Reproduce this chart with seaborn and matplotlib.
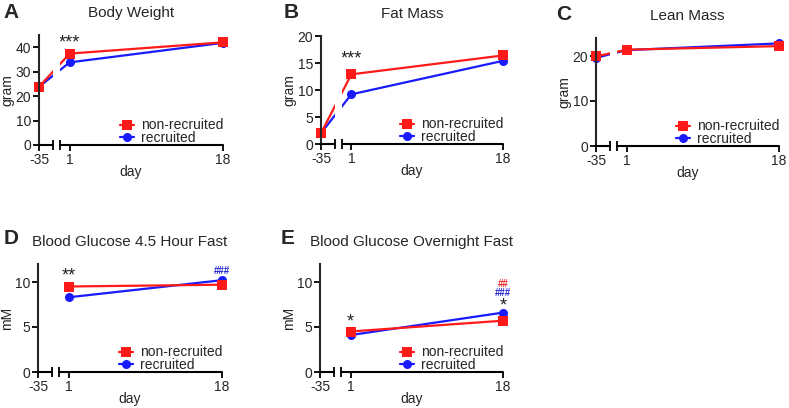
import matplotlib
matplotlib.use("Agg")
import matplotlib.pyplot as plt
import seaborn as sns
import pandas as pd

sns.set_theme(style="ticks")
plt.rcParams["font.family"] = ["Liberation Sans", "DejaVu Sans"]

# ---------- data ----------
groups = ["non-recruited", "recruited"]
days_body = [-35, 1, 18]
days_gluc = [1, 18]

body_nonrec = [23.8, 37.4, 42.0]
body_rec = [23.8, 33.8, 41.8]
fat_nonrec = [2.0, 12.9, 16.4]
fat_rec = [2.0, 9.2, 15.4]
lean_nonrec = [19.9, 21.4, 22.2]
lean_rec = [19.6, 21.3, 22.8]
gluc45_nonrec = [9.5, 9.7]
gluc45_rec = [8.3, 10.2]
glucon_nonrec = [4.5, 5.7]
glucon_rec = [4.1, 6.6]

panels = [
    ("A", "Body Weight", "gram", days_body, body_nonrec, body_rec, 45, [0, 10, 20, 30, 40]),
    ("B", "Fat Mass", "gram", days_body, fat_nonrec, fat_rec, 20, [0, 5, 10, 15, 20]),
    ("C", "Lean Mass", "gram", days_body, lean_nonrec, lean_rec, 24, [0, 10, 20]),
    ("D", "Blood Glucose 4.5 Hour Fast", "mM", days_gluc, gluc45_nonrec, gluc45_rec, 12, [0, 5, 10]),
    ("E", "Blood Glucose Overnight Fast", "mM", days_gluc, glucon_nonrec, glucon_rec, 12, [0, 5, 10]),
]

# significance marks: (day, y, text, colour, size)
marks = {
    "A": [(1, 38.3, "***", "#222222", 13)],
    "B": [(1, 14.2, "***", "#222222", 13)],
    "C": [],
    "D": [(1, 9.7, "**", "#222222", 13), (18, 10.7, "###", "#2222cc", 7)],
    "E": [(1, 4.6, "*", "#222222", 13), (18, 6.4, "*", "#222222", 13),
          (18, 8.2, "###", "#2222cc", 7), (18, 9.2, "##", "#ee2222", 7)],
}

colors = {"non-recruited": "#ff1a1a", "recruited": "#1a1aff"}
markers = {"non-recruited": "s", "recruited": "o"}

# day -> x position on the broken axis
POS35 = -2.4
BRK_L, BRK_R = -0.85, -0.05
def xpos(d):
    return POS35 if d == -35 else d

W, H = 789, 408
fig = plt.figure(figsize=(W / 100, H / 100), dpi=100)

# axes boxes in pixels: left, right, top, bottom
boxes = {
    "A": (39, 223, 35, 145),
    "B": (321, 503, 36, 144),
    "C": (596, 779, 38, 146),
    "D": (38, 222, 264, 372),
    "E": (320, 503, 264, 372),
}
letters = {"A": (11, 12), "B": (291, 13), "C": (564, 14), "D": (11, 239), "E": (288, 239)}

for letter, title, ylab, days, nonrec, rec, ytop, yticks in panels:
    l, r, t, b = boxes[letter]
    ax = fig.add_axes([l / W, 1 - b / H, (r - l) / W, (b - t) / H])

    df = pd.DataFrame({
        "x": [xpos(d) for d in days] * 2,
        "value": list(rec) + list(nonrec),
        "group": ["recruited"] * len(days) + ["non-recruited"] * len(days),
    })
    sns.lineplot(data=df, x="x", y="value", hue="group", style="group",
                 hue_order=["recruited", "non-recruited"],
                 palette=colors, markers=markers, dashes=False,
                 linewidth=1.6, markersize=6.5, markeredgewidth=0,
                 ax=ax, clip_on=False)

    # white gap in lines at the axis break
    ax.axvspan(BRK_L, BRK_R, color="white", zorder=5, lw=0)

    ax.set_xlim(POS35, 18)
    ax.set_ylim(0, ytop)
    ax.set_yticks(yticks)
    ax.set_xticks([POS35, 1, 18])
    ax.set_xticklabels(["-35", "1", "18"])
    ax.tick_params(axis="both", labelsize=10, length=4, width=1.3, color="black", pad=1.5)

    # broken x-axis drawn by hand
    for s in ["top", "right", "bottom"]:
        ax.spines[s].set_visible(False)
    ax.spines["left"].set_linewidth(1.5)
    tr = ax.get_xaxis_transform()
    ax.plot([POS35, BRK_L], [0, 0], color="black", lw=1.5, transform=tr, clip_on=False, zorder=6)
    ax.plot([BRK_R, 18], [0, 0], color="black", lw=1.5, transform=tr, clip_on=False, zorder=6)
    ax.plot([BRK_L, BRK_R], [0, 0], ls="none", marker="|", ms=7, mew=1.3,
            color="black", transform=tr, clip_on=False, zorder=6)

    ax.set_xlabel("day", fontsize=10, labelpad=-1)
    ax.set_ylabel(ylab, fontsize=10, labelpad=1)
    ax.set_title(title, fontsize=11, pad=13)

    for d, y, txt, c, fs in marks[letter]:
        ax.text(xpos(d), y, txt, ha="center", va="bottom", fontsize=fs, color=c,
                fontweight="bold" if fs < 8 else "normal")

    h, lab = ax.get_legend_handles_labels()
    ax.legend(h[::-1], lab[::-1], loc="lower right", bbox_to_anchor=(1.0, 0.0),
              frameon=False, fontsize=10, handlelength=1.0, handletextpad=0.5,
              labelspacing=-0.1, borderpad=0, borderaxespad=0)

    lx, ly = letters[letter]
    fig.text(lx / W, 1 - ly / H, letter, fontsize=15, fontweight="bold",
             ha="center", va="center")

fig.savefig("out.png", dpi=100)
